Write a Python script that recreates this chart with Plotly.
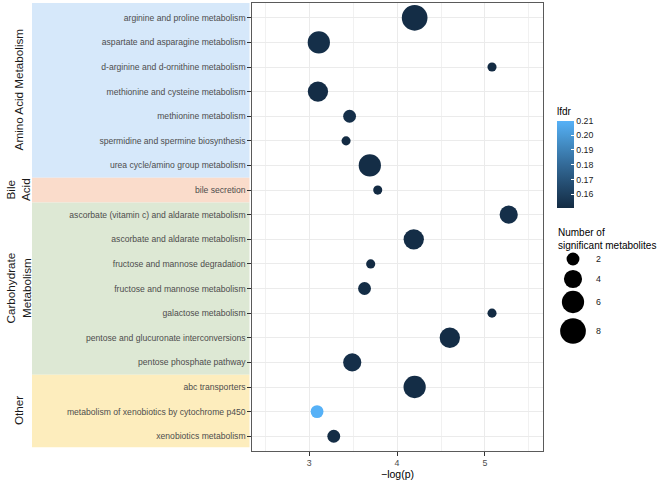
import numpy as np
import plotly.graph_objects as go

# ---------------- data ----------------
pathways = [
    "arginine and proline metabolism",
    "aspartate and asparagine metabolism",
    "d-arginine and d-ornithine metabolism",
    "methionine and cysteine metabolism",
    "methionine metabolism",
    "spermidine and spermine biosynthesis",
    "urea cycle/amino group metabolism",
    "bile secretion",
    "ascorbate (vitamin c) and aldarate metabolism",
    "ascorbate and aldarate metabolism",
    "fructose and mannose degradation",
    "fructose and mannose metabolism",
    "galactose metabolism",
    "pentose and glucuronate interconversions",
    "pentose phosphate pathway",
    "abc transporters",
    "metabolism of xenobiotics by cytochrome p450",
    "xenobiotics metabolism",
]
groups = (["Amino Acid Metabolism"] * 7 + ["Bile Acid"] +
          ["Carbohydrate Metabolism"] * 7 + ["Other"] * 3)
neg_log_p = [4.20, 3.11, 5.08, 3.10, 3.46, 3.42, 3.69, 3.78, 5.27,
             4.19, 3.70, 3.63, 5.08, 4.60, 3.49, 4.20, 3.09, 3.28]
n_sig = [8, 6, 1, 5, 2, 1, 6, 1, 4, 5, 1, 2, 1, 5, 4, 6, 2, 2]
lfdr = [0.152, 0.153, 0.151, 0.152, 0.153, 0.151, 0.152, 0.151, 0.153,
        0.152, 0.151, 0.152, 0.151, 0.152, 0.153, 0.152, 0.210, 0.152]

group_names = ["Amino Acid Metabolism", "Bile Acid", "Carbohydrate Metabolism", "Other"]
group_labels = ["Amino Acid Metabolism", "Bile<br>Acid", "Carbohydrate<br>Metabolism", "Other"]
group_colors = ["#D6E8FA", "#FADCCB", "#DDE8D4", "#FDEDBD"]

x_ticks = [3, 4, 5]
lfdr_ticks = [0.16, 0.17, 0.18, 0.19, 0.20, 0.21]
size_breaks = [2, 4, 6, 8]

# ---------------- styling ----------------
W, H = 659, 480
FONT = "Arial, Liberation Sans, sans-serif"
PLOT_L, PLOT_R, PLOT_T, PLOT_B = 252, 543, 3, 451
PH = PLOT_B - PLOT_T
SIZE_K = 9.09  # diameter (px) per sqrt(count)


def diam(v):
    return SIZE_K * np.sqrt(np.asarray(v, dtype=float))


def py(px):  # pixel row -> paper y
    return 1 - (px - PLOT_T) / PH


colorscale = [[0.0, "#132B43"], [0.25, "#234A6D"], [0.5, "#336A98"],
              [0.75, "#448EC6"], [1.0, "#56B1F7"]]

yidx = list(range(len(pathways)))

fig = go.Figure()

fig.add_trace(go.Scatter(
    x=neg_log_p, y=yidx, mode="markers",
    marker=dict(size=diam(n_sig), sizemode="diameter", color=lfdr,
                colorscale=colorscale, cmin=0.151, cmax=0.21,
                line=dict(width=0), opacity=1,
                colorbar=dict(
                    title=dict(text="lfdr", side="top",
                               font=dict(size=10, color="black", family=FONT)),
                    x=557 / W, xanchor="left",
                    y=py(156), yanchor="middle",
                    len=103, lenmode="pixels", thickness=17, thicknessmode="pixels",
                    tickvals=lfdr_ticks, ticktext=[f"{t:.2f}" for t in lfdr_ticks],
                    ticks="inside", tickcolor="white", ticklen=3, tickwidth=1,
                    tickfont=dict(size=8.8, color="#1A1A1A", family=FONT),
                    outlinewidth=0, xpad=0, ypad=0)),
    showlegend=False, hoverinfo="x+y"))

# size legend on a small pixel-coordinate axis pair
LEG_X0, LEG_X1, LEG_Y0, LEG_Y1 = 545, 659, 225, 348
leg_y = [259, 279, 302, 331]
fig.add_trace(go.Scatter(
    x=[573] * len(size_breaks), y=leg_y, mode="markers",
    marker=dict(size=diam(size_breaks), sizemode="diameter", color="black",
                line=dict(width=0), opacity=1),
    xaxis="x2", yaxis="y2", showlegend=False, hoverinfo="skip", cliponaxis=False))

annotations = []
for b, yy in zip(size_breaks, leg_y):
    annotations.append(dict(x=594, y=yy, xref="x2", yref="y2", text=str(b), showarrow=False,
                            xanchor="left", yanchor="middle",
                            font=dict(size=8.8, color="#1A1A1A", family=FONT)))
annotations.append(dict(x=556 / W, y=py(239), xref="paper", yref="paper",
                        text="Number of<br>significant metabolites", showarrow=False,
                        xanchor="left", yanchor="middle", align="left",
                        font=dict(size=10, color="black", family=FONT)))

# group strips
shapes = []
bounds = {}
for i, g in enumerate(groups):
    lo, hi = bounds.get(g, (i, i))
    bounds[g] = (min(lo, i), max(hi, i))
for g, lab, col in zip(group_names, group_labels, group_colors):
    lo, hi = bounds[g]
    y0 = lo - 0.5 if lo > 0 else -0.6
    y1 = hi + 0.5 if hi < len(pathways) - 1 else hi + 0.45
    shapes.append(dict(type="rect", xref="paper", yref="y", x0=32 / W, x1=249.5 / W,
                       y0=y0, y1=y1, fillcolor=col, line=dict(width=0), layer="below"))
    annotations.append(dict(x=18 / W, y=(y0 + y1) / 2, xref="paper", yref="y", text=lab,
                            textangle=-90, showarrow=False, xanchor="center", yanchor="middle",
                            align="center",
                            font=dict(size=11.7, color="#1A1A1A", family=FONT)))

fig.update_layout(
    width=W, height=H,
    margin=dict(l=0, r=0, t=PLOT_T, b=H - PLOT_B, pad=0, autoexpand=False),
    paper_bgcolor="white", plot_bgcolor="white",
    font=dict(family=FONT),
    shapes=shapes, annotations=annotations,
    xaxis=dict(domain=[PLOT_L / W, PLOT_R / W], range=[2.35, 5.66],
               tickvals=x_ticks, ticktext=[str(t) for t in x_ticks],
               showgrid=True, gridcolor="#EBEBEB", gridwidth=1,
               minor=dict(tickvals=[2.5, 3.5, 4.5, 5.5], showgrid=True,
                          gridcolor="#F1F1F1", gridwidth=0.7),
               ticks="outside", ticklen=3.7, tickcolor="#333333", tickwidth=1,
               tickfont=dict(size=8.8, color="#4D4D4D", family=FONT),
               showline=True, mirror=True, linecolor="#5A5A5A", linewidth=1,
               zeroline=False,
               title=dict(text="−log(p)", standoff=3,
                          font=dict(size=10.5, color="black", family=FONT))),
    yaxis=dict(domain=[0, 1], range=[len(pathways) - 0.4, -0.6],
               tickvals=yidx, ticktext=pathways,
               showgrid=True, gridcolor="#EBEBEB", gridwidth=1,
               ticks="outside", ticklen=3.7, tickcolor="#333333", tickwidth=1,
               tickfont=dict(size=8.6, color="#4D4D4D", family=FONT),
               showline=True, mirror=True, linecolor="#5A5A5A", linewidth=1,
               zeroline=False),
    xaxis2=dict(domain=[LEG_X0 / W, LEG_X1 / W], range=[LEG_X0, LEG_X1],
                visible=False, anchor="y2", fixedrange=True),
    yaxis2=dict(domain=[py(LEG_Y1), py(LEG_Y0)], range=[LEG_Y1, LEG_Y0],
                visible=False, anchor="x2", fixedrange=True),
)

fig.write_html("out.html", config={"displayModeBar": False},
               post_script="document.body.style.margin='0px';")
